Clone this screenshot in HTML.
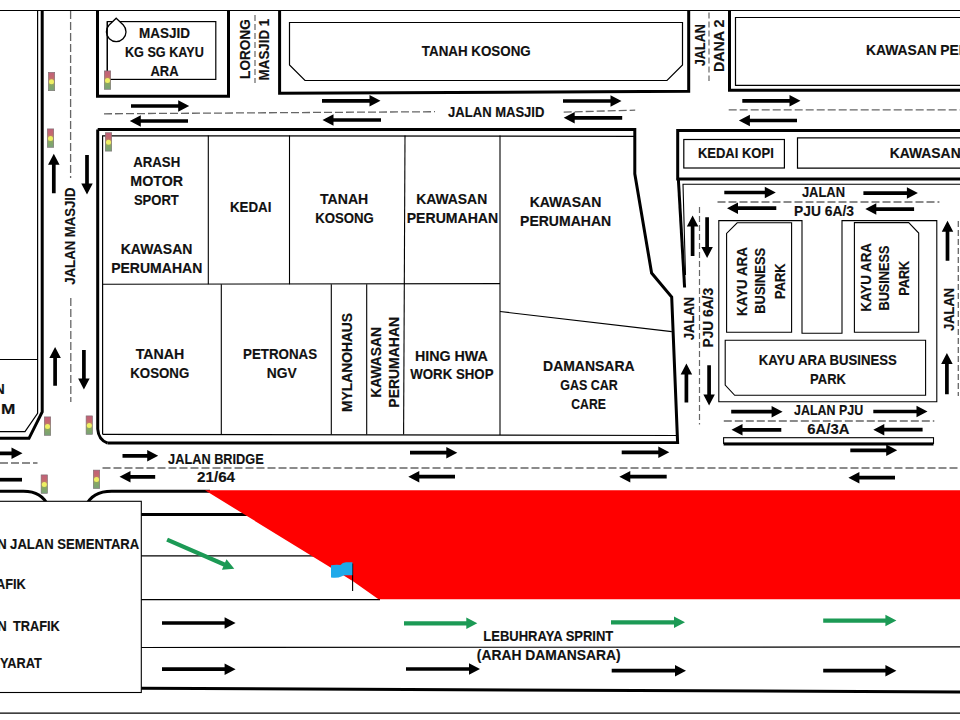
<!DOCTYPE html>
<html><head><meta charset="utf-8"><title>Peta Lencongan Trafik</title>
<style>html,body{margin:0;padding:0;background:#fff;width:960px;height:720px;overflow:hidden}
svg{display:block}
text{font-family:"Liberation Sans",sans-serif;font-weight:bold;font-size:14.0px}</style></head>
<body>
<svg width="960" height="720" viewBox="0 0 960 720">
<defs><linearGradient id="tlg" x1="0" y1="0" x2="0" y2="1">
<stop offset="0" stop-color="#c0607a"/><stop offset="0.3" stop-color="#c46a6e"/><stop offset="0.5" stop-color="#b89a62"/><stop offset="0.7" stop-color="#86a862"/><stop offset="1" stop-color="#78a07a"/></linearGradient></defs>
<rect width="960" height="720" fill="#fff"/>
<line x1="0" y1="10.5" x2="960" y2="10.5" stroke="#000" stroke-width="1.2"/>
<polyline points="37.6,11 37.6,413.3 25,431.6 0,431.6" fill="none" stroke="#000" stroke-width="1.2" stroke-linejoin="miter"/>
<polyline points="42.2,11 42.2,412 29,438.3 0,438.3" fill="none" stroke="#000" stroke-width="3" stroke-linejoin="miter"/>
<line x1="0" y1="359.5" x2="37.6" y2="359.5" stroke="#000" stroke-width="1"/>
<line x1="70.6" y1="11" x2="70.6" y2="178" stroke="#666" stroke-width="1.3" stroke-dasharray="8 3"/>
<line x1="70.8" y1="298" x2="70.8" y2="402" stroke="#666" stroke-width="1.3" stroke-dasharray="8 3"/>
<polygon points="55.65,193.3 55.65,164.7 59.55,164.7 53.8,153.7 48.05,164.7 51.95,164.7 51.95,193.3" fill="#000"/>
<polygon points="85.15,155 85.15,183.5 81.25,183.5 87,194.5 92.75,183.5 88.85,183.5 88.85,155" fill="#000"/>
<polygon points="56.95,385.8 56.95,358 60.85,358 55.1,347 49.35,358 53.25,358 53.25,385.8" fill="#000"/>
<polygon points="82.05,349.9 82.05,378.4 78.15,378.4 83.9,389.4 89.65,378.4 85.75,378.4 85.75,349.9" fill="#000"/>
<polyline points="97.5,11 97.5,96.3 228.5,96.3 228.5,11" fill="none" stroke="#000" stroke-width="3" stroke-linejoin="miter"/>
<rect x="107.3" y="21.6" width="108.5" height="57.8" fill="none" stroke="#000" stroke-width="1.2"/>
<path d="M116.2,18.2 L123.3,25 A9.8,9.8 0 1 1 109.1,25 Z" fill="#fff" stroke="#000" stroke-width="1.3"/>
<line x1="107.3" y1="21.6" x2="107.3" y2="79.4" stroke="#000" stroke-width="1.2"/>
<line x1="255" y1="15" x2="255" y2="83" stroke="#666" stroke-width="1.2" stroke-dasharray="6 3"/>
<polyline points="279.6,11 279.6,93.3 688.7,91.3 688.7,11" fill="none" stroke="#000" stroke-width="3" stroke-linejoin="miter"/>
<polyline points="300,22.5 682.5,22.5 682.5,65 667,80.5 305,80.5 289.5,65 289.5,22.5 300,22.5" fill="none" stroke="#000" stroke-width="1.2" stroke-linejoin="miter"/>
<line x1="709" y1="12.5" x2="709" y2="81" stroke="#666" stroke-width="1.2" stroke-dasharray="6 3"/>
<polyline points="729.5,11 729.5,90.3 960,90.3" fill="none" stroke="#000" stroke-width="3" stroke-linejoin="miter"/>
<polyline points="962,17.5 735.5,17.5 735.5,85.4 962,85.4" fill="none" stroke="#000" stroke-width="1.2" stroke-linejoin="miter"/>
<line x1="104" y1="113.8" x2="435" y2="111.7" stroke="#666" stroke-width="1.3" stroke-dasharray="8 3"/>
<line x1="563.7" y1="112.1" x2="635.2" y2="110.2" stroke="#666" stroke-width="1.3" stroke-dasharray="8 3"/>
<line x1="728.7" y1="109.9" x2="960" y2="109.9" stroke="#666" stroke-width="1.3" stroke-dasharray="8 3"/>
<polygon points="131,107.85 178.2,107.85 178.2,111.75 189.2,106 178.2,100.25 178.2,104.15 131,104.15" fill="#000"/>
<polygon points="322,102.65 369.5,102.65 369.5,106.55 380.5,100.8 369.5,95.05 369.5,98.95 322,98.95" fill="#000"/>
<polygon points="563,102.85 610.5,102.85 610.5,106.75 621.5,101 610.5,95.25 610.5,99.15 563,99.15" fill="#000"/>
<polygon points="742.3,102.65 789.5,102.65 789.5,106.55 800.5,100.8 789.5,95.05 789.5,98.95 742.3,98.95" fill="#000"/>
<polygon points="188,119.15 140.8,119.15 140.8,115.25 129.8,121 140.8,126.75 140.8,122.85 188,122.85" fill="#000"/>
<polygon points="381,118.15 333.5,118.15 333.5,114.25 322.5,120 333.5,125.75 333.5,121.85 381,121.85" fill="#000"/>
<polygon points="622.2,115.95 574.7,115.95 574.7,112.05 563.7,117.8 574.7,123.55 574.7,119.65 622.2,119.65" fill="#000"/>
<polygon points="797,118.65 749.9,118.65 749.9,114.75 738.9,120.5 749.9,126.25 749.9,122.35 797,122.35" fill="#000"/>
<polyline points="97.7,129.5 634.8,129.5 634.8,173.8 651.6,273 671.7,297 677.6,442.6 107.6,443.1" fill="none" stroke="#000" stroke-width="3" stroke-linejoin="miter"/>
<path d="M97.7,129.5 L97.7,429 Q98.5,440 107.6,443.1" fill="none" stroke="#000" stroke-width="3"/>
<polyline points="102.6,434.3 102.6,135.8 634,136.3" fill="none" stroke="#000" stroke-width="1.2" stroke-linejoin="miter"/>
<line x1="102.6" y1="434.3" x2="676.2" y2="435.5" stroke="#000" stroke-width="1.2"/>
<line x1="208.3" y1="135.5" x2="208.3" y2="284.3" stroke="#000" stroke-width="1.1"/>
<line x1="289.5" y1="135.5" x2="289.5" y2="284.3" stroke="#000" stroke-width="1.1"/>
<line x1="405" y1="135.5" x2="403.6" y2="434.5" stroke="#000" stroke-width="1.1"/>
<line x1="500" y1="135.5" x2="500" y2="435" stroke="#000" stroke-width="1.1"/>
<line x1="102.6" y1="284.3" x2="500" y2="283.6" stroke="#000" stroke-width="1.1"/>
<line x1="221.3" y1="284.2" x2="221.3" y2="434.5" stroke="#000" stroke-width="1.1"/>
<line x1="331.3" y1="284.2" x2="331.3" y2="434.5" stroke="#000" stroke-width="1.1"/>
<line x1="366.7" y1="284.2" x2="366.7" y2="434.5" stroke="#000" stroke-width="1.1"/>
<line x1="500" y1="311.5" x2="671.8" y2="331.6" stroke="#000" stroke-width="1.1"/>
<polyline points="960,130.6 677.7,130.6 677.7,179 960,179" fill="none" stroke="#000" stroke-width="3" stroke-linejoin="miter"/>
<rect x="683.8" y="139.5" width="100.6" height="28.5" fill="none" stroke="#000" stroke-width="1.2"/>
<polyline points="962,137.8 797.5,137.8 797.5,168.2 962,168.2" fill="none" stroke="#000" stroke-width="1.2" stroke-linejoin="miter"/>
<line x1="678.3" y1="178" x2="684.6" y2="287.5" stroke="#000" stroke-width="3"/>
<polyline points="960,184.3 683,184.3 685.5,275" fill="none" stroke="#000" stroke-width="1.1" stroke-linejoin="miter"/>
<polygon points="718.8,220.6 802,220.6 802,333.3 842,333.3 842,220.6 936.8,220.6 936.8,401.8 718.8,401.8" fill="none" stroke="#000" stroke-width="1.1" stroke-linejoin="miter"/>
<polygon points="737.2,222.8 791.6,222.8 791.6,332.3 726.6,332.3 726.6,233.4" fill="none" stroke="#000" stroke-width="1.1" stroke-linejoin="miter"/>
<polygon points="854.4,222.6 908.7,222.6 918.7,233 918.7,332.3 854.4,332.3" fill="none" stroke="#000" stroke-width="1.1" stroke-linejoin="miter"/>
<polygon points="725.2,340.3 925.6,340.3 925.6,395.3 734.7,395.3 725.2,385" fill="none" stroke="#000" stroke-width="1.1" stroke-linejoin="miter"/>
<line x1="717.5" y1="202" x2="939.4" y2="202" stroke="#666" stroke-width="1.3" stroke-dasharray="8 3"/>
<polygon points="724.3,194.35 764.8,194.35 764.8,198.25 775.8,192.5 764.8,186.75 764.8,190.65 724.3,190.65" fill="#000"/>
<polygon points="863.4,194.95 906.9,194.95 906.9,198.85 917.9,193.1 906.9,187.35 906.9,191.25 863.4,191.25" fill="#000"/>
<polygon points="776.3,206.35 738,206.35 738,202.45 727,208.2 738,213.95 738,210.05 776.3,210.05" fill="#000"/>
<polygon points="914.1,207.25 876.3,207.25 876.3,203.35 865.3,209.1 876.3,214.85 876.3,210.95 914.1,210.95" fill="#000"/>
<line x1="699.5" y1="207" x2="699.5" y2="424.4" stroke="#666" stroke-width="1.2" stroke-dasharray="6 3"/>
<polygon points="694.45,255.9 694.45,226.4 698.35,226.4 692.6,215.4 686.85,226.4 690.75,226.4 690.75,255.9" fill="#000"/>
<polygon points="705.25,217.3 705.25,247 701.35,247 707.1,258 712.85,247 708.95,247 708.95,217.3" fill="#000"/>
<polygon points="688.25,402.6 688.25,374.4 692.15,374.4 686.4,363.4 680.65,374.4 684.55,374.4 684.55,402.6" fill="#000"/>
<polygon points="707.25,365.3 707.25,394.5 703.35,394.5 709.1,405.5 714.85,394.5 710.95,394.5 710.95,365.3" fill="#000"/>
<line x1="958.3" y1="221" x2="958.3" y2="396" stroke="#666" stroke-width="1.3" stroke-dasharray="6 3"/>
<polygon points="949.35,260.7 949.35,231.8 953.25,231.8 947.5,220.8 941.75,231.8 945.65,231.8 945.65,260.7" fill="#000"/>
<polygon points="948.75,394.2 948.75,363.9 952.65,363.9 946.9,352.9 941.15,363.9 945.05,363.9 945.05,394.2" fill="#000"/>
<line x1="723.8" y1="421" x2="934.3" y2="421" stroke="#666" stroke-width="1.3" stroke-dasharray="8 3"/>
<polygon points="731.2,413.55 771.6,413.55 771.6,417.45 782.6,411.7 771.6,405.95 771.6,409.85 731.2,409.85" fill="#000"/>
<polygon points="873.3,413.35 916.5,413.35 916.5,417.25 927.5,411.5 916.5,405.75 916.5,409.65 873.3,409.65" fill="#000"/>
<polygon points="781.3,427.95 742.5,427.95 742.5,424.05 731.5,429.8 742.5,435.55 742.5,431.65 781.3,431.65" fill="#000"/>
<polygon points="922.6,427.85 884.3,427.85 884.3,423.95 873.3,429.7 884.3,435.45 884.3,431.55 922.6,431.55" fill="#000"/>
<rect x="723.6" y="437.7" width="209.9" height="5.7" fill="none" stroke="#000" stroke-width="1.1"/>
<line x1="723.6" y1="443.9" x2="933.5" y2="443.9" stroke="#000" stroke-width="3"/>
<line x1="0" y1="463" x2="37.5" y2="463" stroke="#666" stroke-width="1.3" stroke-dasharray="8 3"/>
<line x1="102.5" y1="468" x2="960" y2="468" stroke="#666" stroke-width="1.3" stroke-dasharray="8 3"/>
<polygon points="-20,455.15 11.5,455.15 11.5,459.05 22.5,453.3 11.5,447.55 11.5,451.45 -20,451.45" fill="#000"/>
<polygon points="122.5,457.65 147.2,457.65 147.2,461.55 158.2,455.8 147.2,450.05 147.2,453.95 122.5,453.95" fill="#000"/>
<polygon points="410,454.55 446.3,454.55 446.3,458.45 457.3,452.7 446.3,446.95 446.3,450.85 410,450.85" fill="#000"/>
<polygon points="621.7,454.15 658.3,454.15 658.3,458.05 669.3,452.3 658.3,446.55 658.3,450.45 621.7,450.45" fill="#000"/>
<polygon points="850.3,452.15 886.2,452.15 886.2,456.05 897.2,450.3 886.2,444.55 886.2,448.45 850.3,448.45" fill="#000"/>
<line x1="0" y1="479.7" x2="22" y2="479.7" stroke="#000" stroke-width="3.7"/>
<polygon points="155.2,474.95 130.5,474.95 130.5,471.05 119.5,476.8 130.5,482.55 130.5,478.65 155.2,478.65" fill="#000"/>
<polygon points="455,474.85 419.3,474.85 419.3,470.95 408.3,476.7 419.3,482.45 419.3,478.55 455,478.55" fill="#000"/>
<polygon points="666.7,474.85 630.3,474.85 630.3,470.95 619.3,476.7 630.3,482.45 630.3,478.55 666.7,478.55" fill="#000"/>
<polygon points="895,475.85 859.4,475.85 859.4,471.95 848.4,477.7 859.4,483.45 859.4,479.55 895,479.55" fill="#000"/>
<path d="M0,491.2 L23.4,491.2 Q42,491.2 48,506" fill="none" stroke="#000" stroke-width="3"/>
<path d="M86,506 Q92,491.2 111.7,491.2 L210,491.2" fill="none" stroke="#000" stroke-width="3"/>
<line x1="141" y1="514.4" x2="250" y2="514.4" stroke="#000" stroke-width="3"/>
<line x1="141" y1="555.9" x2="320" y2="555.9" stroke="#000" stroke-width="1.2"/>
<line x1="141" y1="599.6" x2="380" y2="599.6" stroke="#000" stroke-width="1.2"/>
<line x1="141" y1="647.5" x2="960" y2="646.9" stroke="#000" stroke-width="1.2"/>
<line x1="141" y1="688.2" x2="960" y2="692" stroke="#000" stroke-width="3"/>
<line x1="0" y1="713.2" x2="960" y2="713.2" stroke="#000" stroke-width="1.2"/>
<polygon points="205,490.3 960,490.3 960,599.2 378.5,599.2 353,581.2" fill="#ff0000"/>
<line x1="352.6" y1="563.5" x2="352.6" y2="591" stroke="#000" stroke-width="1.1"/>
<path d="M331,565.3 Q336,564.2 340.5,565 Q342.5,562.2 346,562.2 L352.4,562.2 L352.4,575.3 L346,575.3 Q343,575.5 342,576.3 Q337,578.6 331,577.4 Z" fill="#1fa9ea"/>
<polygon points="166.24,541.57 223.35,566.39 221.92,569.69 234.3,568.8 226.5,559.14 225.07,562.44 167.96,537.63" fill="#1c9a55"/>
<polygon points="404,625.4 466.3,625.4 466.3,629.05 477.3,623.3 466.3,617.55 466.3,621.2 404,621.2" fill="#1c9a55"/>
<polygon points="611,624.4 674,624.4 674,628.05 685,622.3 674,616.55 674,620.2 611,620.2" fill="#1c9a55"/>
<polygon points="823.2,622.7 885.4,622.7 885.4,626.35 896.4,620.6 885.4,614.85 885.4,618.5 823.2,618.5" fill="#1c9a55"/>
<polygon points="162,624.85 224.6,624.85 224.6,628.75 235.6,623 224.6,617.25 224.6,621.15 162,621.15" fill="#000"/>
<polygon points="162,671.05 224.6,671.05 224.6,674.95 235.6,669.2 224.6,663.45 224.6,667.35 162,667.35" fill="#000"/>
<polygon points="406,670.85 469,670.85 469,674.75 480,669 469,663.25 469,667.15 406,667.15" fill="#000"/>
<polygon points="611.7,672.55 675,672.55 675,676.45 686,670.7 675,664.95 675,668.85 611.7,668.85" fill="#000"/>
<polygon points="823.2,672.55 885.4,672.55 885.4,676.45 896.4,670.7 885.4,664.95 885.4,668.85 823.2,668.85" fill="#000"/>
<g transform="translate(48,72)"><rect x="0.3" y="0.3" width="6.4" height="18.4" fill="url(#tlg)" stroke="#7a6f70" stroke-width="0.6"/><circle cx="3.5" cy="9.8" r="2.5" fill="#eef064"/></g>
<g transform="translate(47,128.6)"><rect x="0.3" y="0.3" width="6.4" height="18.4" fill="url(#tlg)" stroke="#7a6f70" stroke-width="0.6"/><circle cx="3.5" cy="9.8" r="2.5" fill="#eef064"/></g>
<g transform="translate(104,70.6)"><rect x="0.3" y="0.3" width="6.4" height="18.4" fill="url(#tlg)" stroke="#7a6f70" stroke-width="0.6"/><circle cx="3.5" cy="9.8" r="2.5" fill="#eef064"/></g>
<g transform="translate(105,132.4)"><rect x="0.3" y="0.3" width="6.4" height="18.4" fill="url(#tlg)" stroke="#7a6f70" stroke-width="0.6"/><circle cx="3.5" cy="9.8" r="2.5" fill="#eef064"/></g>
<g transform="translate(44,416.6)"><rect x="0.3" y="0.3" width="6.4" height="18.4" fill="url(#tlg)" stroke="#7a6f70" stroke-width="0.6"/><circle cx="3.5" cy="9.8" r="2.5" fill="#eef064"/></g>
<g transform="translate(85.8,415.6)"><rect x="0.3" y="0.3" width="6.4" height="18.4" fill="url(#tlg)" stroke="#7a6f70" stroke-width="0.6"/><circle cx="3.5" cy="9.8" r="2.5" fill="#eef064"/></g>
<g transform="translate(40.8,474.6)"><rect x="0.3" y="0.3" width="6.4" height="18.4" fill="url(#tlg)" stroke="#7a6f70" stroke-width="0.6"/><circle cx="3.5" cy="9.8" r="2.5" fill="#eef064"/></g>
<g transform="translate(93,469.8)"><rect x="0.3" y="0.3" width="6.4" height="18.4" fill="url(#tlg)" stroke="#7a6f70" stroke-width="0.6"/><circle cx="3.5" cy="9.8" r="2.5" fill="#eef064"/></g>
<rect x="-2" y="501.3" width="143.3" height="191.2" fill="#fff" stroke="#000" stroke-width="1.1"/>
<g fill="#111" stroke="#111" stroke-width="0.15">
<text transform="translate(139.09,37.5) scale(0.9630,1)">MASJID</text>
<text transform="translate(124.94,57) scale(0.9042,1)">KG SG KAYU</text>
<text transform="translate(150.48,75.8) scale(0.9257,1)">ARA</text>
<text transform="translate(421.86,55.5) scale(0.9549,1)">TANAH KOSONG</text>
<text transform="translate(448.11,117) scale(0.9318,1)">JALAN MASJID</text>
<text transform="translate(866.06,54.6) scale(0.9878,1)">KAWASAN</text>
<text transform="translate(940.31,54.6) scale(0.9878,1)">PERUMAHAN</text>
<text transform="translate(697.92,158) scale(0.9298,1)">KEDAI KOPI</text>
<text transform="translate(889.66,158) scale(0.9935,1)">KAWASAN</text>
<text transform="translate(133.17,166.7) scale(0.9453,1)">ARASH</text>
<text transform="translate(130.33,185.6) scale(1.0198,1)">MOTOR</text>
<text transform="translate(133.93,204.6) scale(0.9308,1)">SPORT</text>
<text transform="translate(120.75,253.75) scale(1.0022,1)">KAWASAN</text>
<text transform="translate(111.15,272.5) scale(1.0022,1)">PERUMAHAN</text>
<text transform="translate(229.89,211.8) scale(0.9532,1)">KEDAI</text>
<text transform="translate(320.05,203.6) scale(1.0053,1)">TANAH</text>
<text transform="translate(315.31,222.6) scale(0.9413,1)">KOSONG</text>
<text transform="translate(416.16,204) scale(0.9935,1)">KAWASAN</text>
<text transform="translate(406.74,222.5) scale(1.0056,1)">PERUMAHAN</text>
<text transform="translate(529.65,206.7) scale(1.0022,1)">KAWASAN</text>
<text transform="translate(520.05,225.5) scale(1.0022,1)">PERUMAHAN</text>
<text transform="translate(801.92,196.9) scale(0.9231,1)">JALAN</text>
<text transform="translate(794.06,215.7) scale(0.9873,1)">PJU 6A/3</text>
<text transform="translate(135.75,358.8) scale(1.0139,1)">TANAH</text>
<text transform="translate(130.3,377.6) scale(0.9479,1)">KOSONG</text>
<text transform="translate(243.09,358.9) scale(0.9528,1)">PETRONAS</text>
<text transform="translate(266.86,377.8) scale(0.9863,1)">NGV</text>
<text transform="translate(414.93,360.6) scale(1.0192,1)">HING HWA</text>
<text transform="translate(410.3,379.4) scale(0.9474,1)">WORK SHOP</text>
<text transform="translate(543.05,370.8) scale(0.9983,1)">DAMANSARA</text>
<text transform="translate(560.31,389.9) scale(0.8917,1)">GAS CAR</text>
<text transform="translate(571.32,408.6) scale(0.8705,1)">CARE</text>
<text transform="translate(758.71,364.7) scale(0.9399,1)">KAYU ARA BUSINESS</text>
<text transform="translate(810.12,383.6) scale(0.9253,1)">PARK</text>
<text transform="translate(794.12,414.8) scale(0.8886,1)">JALAN PJU</text>
<text transform="translate(807.27,433.8) scale(1.0619,1)">6A/3A</text>
<text transform="translate(168.12,463.8) scale(0.9113,1)">JALAN BRIDGE</text>
<text transform="translate(196.96,482) scale(1.0885,1)">21/64</text>
<text transform="translate(483.32,640.8) scale(0.9291,1)">LEBUHRAYA SPRINT</text>
<text transform="translate(476.81,659.7) scale(0.9896,1)">(ARAH DAMANSARA)</text>
<text transform="translate(10.11,548.9) scale(0.9350,1)">JALAN SEMENTARA</text>
<text transform="translate(-47.02,548.9) scale(0.9350,1)">LALUAN</text>
<text transform="translate(13.06,630.7) scale(0.9118,1)">TRAFIK</text>
<text transform="translate(-20.94,588.9) scale(0.9118,1)">TRAFIK</text>
<text transform="translate(-41.52,630.7) scale(0.9118,1)">ALIRAN</text>
<text transform="translate(-35.48,667.5) scale(0.9118,1)">BERSYARAT</text>
<text transform="translate(-65.94,394.4) scale(0.9878,1)">KAWASAN</text>
<text transform="translate(0.93,413.8) scale(1.2347,1)">M</text>
<text transform="translate(249.76,78.92) rotate(-90) scale(0.9723,1)">LORONG</text>
<text transform="translate(269.26,80.41) rotate(-90) scale(0.9565,1)">MASJID 1</text>
<text transform="translate(704.76,66.18) rotate(-90) scale(0.9011,1)">JALAN</text>
<text transform="translate(724.26,71.97) rotate(-90) scale(1.0180,1)">DANA 2</text>
<text transform="translate(75.26,284.69) rotate(-90) scale(0.9396,1)">JALAN MASJID</text>
<text transform="translate(351.96,412.04) rotate(-90) scale(0.9894,1)">MYLANOHAUS</text>
<text transform="translate(380.86,397.64) rotate(-90) scale(0.9892,1)">KAWASAN</text>
<text transform="translate(398.66,407.65) rotate(-90) scale(0.9978,1)">PERUMAHAN</text>
<text transform="translate(694.46,340.19) rotate(-90) scale(0.9275,1)">JALAN</text>
<text transform="translate(713.16,347.53) rotate(-90) scale(0.9823,1)">PJU 6A/3</text>
<text transform="translate(746.66,315.91) rotate(-90) scale(0.9541,1)">KAYU ARA</text>
<text transform="translate(765.36,313.67) rotate(-90) scale(0.9187,1)">BUSINESS</text>
<text transform="translate(784.56,298.98) rotate(-90) scale(0.9253,1)">PARK</text>
<text transform="translate(870.56,311.71) rotate(-90) scale(0.9541,1)">KAYU ARA</text>
<text transform="translate(889.46,310.57) rotate(-90) scale(0.9116,1)">BUSINESS</text>
<text transform="translate(908.96,295.87) rotate(-90) scale(0.9120,1)">PARK</text>
<text transform="translate(953.66,331.09) rotate(-90) scale(0.9275,1)">JALAN</text>
</g>
</svg>
</body></html>
